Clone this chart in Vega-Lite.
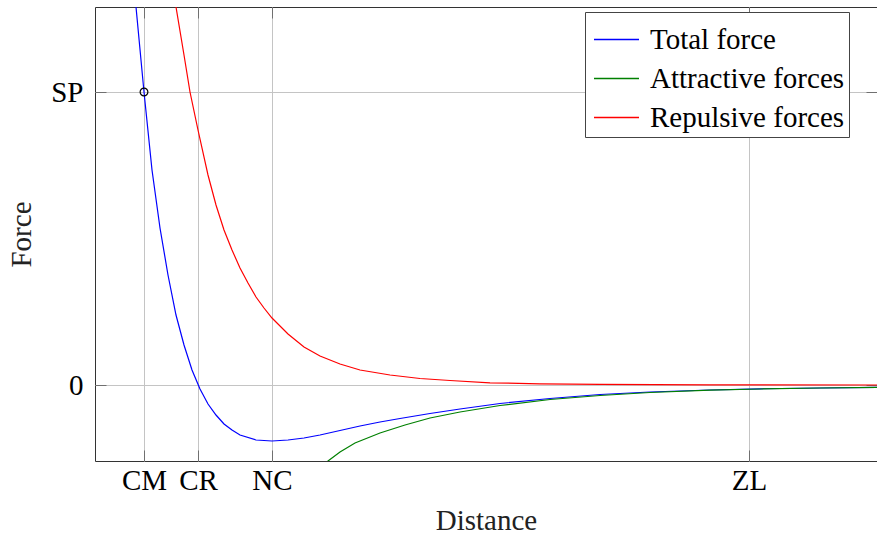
{
  "$schema": "https://vega.github.io/schema/vega-lite/v6.json",
  "width": 782,
  "height": 454,
  "autosize": {"type": "none"},
  "padding": {"left": 95, "top": 7, "right": 0, "bottom": 77},
  "config": {
    "view": {"stroke": "#333333", "strokeWidth": 1},
    "font": "Liberation Serif",
    "axis": {
      "grid": true,
      "gridColor": "#c4c4c4",
      "gridWidth": 1,
      "domain": false,
      "tickSize": -11,
      "tickColor": "#707070",
      "tickWidth": 1,
      "labelFont": "Liberation Serif",
      "labelFontSize": 29,
      "labelColor": "#000000",
      "titleFont": "Liberation Serif",
      "titleFontSize": 29,
      "titleFontWeight": "normal",
      "titleColor": "#222222"
    },
    "legend": {
      "labelFont": "Liberation Serif",
      "labelFontSize": 29,
      "labelColor": "#000000"
    }
  },
  "datasets": {
    "curves": [
      {"d": 33, "f": 465, "s": "Total force"},
      {"d": 41, "f": 378, "s": "Total force"},
      {"d": 49, "f": 293, "s": "Total force"},
      {"d": 57, "f": 215, "s": "Total force"},
      {"d": 65, "f": 157, "s": "Total force"},
      {"d": 73, "f": 110, "s": "Total force"},
      {"d": 81, "f": 70, "s": "Total force"},
      {"d": 89, "f": 40, "s": "Total force"},
      {"d": 97, "f": 15, "s": "Total force"},
      {"d": 105, "f": -4, "s": "Total force"},
      {"d": 113, "f": -19, "s": "Total force"},
      {"d": 121, "f": -30, "s": "Total force"},
      {"d": 129, "f": -39, "s": "Total force"},
      {"d": 137, "f": -45, "s": "Total force"},
      {"d": 145, "f": -50, "s": "Total force"},
      {"d": 161, "f": -55, "s": "Total force"},
      {"d": 177, "f": -56, "s": "Total force"},
      {"d": 193, "f": -55, "s": "Total force"},
      {"d": 209, "f": -53, "s": "Total force"},
      {"d": 225, "f": -50, "s": "Total force"},
      {"d": 245, "f": -45.5, "s": "Total force"},
      {"d": 265, "f": -41, "s": "Total force"},
      {"d": 285, "f": -37, "s": "Total force"},
      {"d": 305, "f": -33.5, "s": "Total force"},
      {"d": 335, "f": -28.5, "s": "Total force"},
      {"d": 365, "f": -24, "s": "Total force"},
      {"d": 405, "f": -18.5, "s": "Total force"},
      {"d": 455, "f": -13.5, "s": "Total force"},
      {"d": 505, "f": -9.5, "s": "Total force"},
      {"d": 555, "f": -7, "s": "Total force"},
      {"d": 615, "f": -5, "s": "Total force"},
      {"d": 665, "f": -3.8, "s": "Total force"},
      {"d": 725, "f": -3, "s": "Total force"},
      {"d": 782, "f": -2.3, "s": "Total force"},
      {"d": 225, "f": -84, "s": "Attractive forces"},
      {"d": 233, "f": -76, "s": "Attractive forces"},
      {"d": 245, "f": -67, "s": "Attractive forces"},
      {"d": 260, "f": -58, "s": "Attractive forces"},
      {"d": 285, "f": -48, "s": "Attractive forces"},
      {"d": 310, "f": -40, "s": "Attractive forces"},
      {"d": 335, "f": -33, "s": "Attractive forces"},
      {"d": 365, "f": -27, "s": "Attractive forces"},
      {"d": 405, "f": -20.5, "s": "Attractive forces"},
      {"d": 455, "f": -14.5, "s": "Attractive forces"},
      {"d": 505, "f": -10.5, "s": "Attractive forces"},
      {"d": 555, "f": -7.5, "s": "Attractive forces"},
      {"d": 615, "f": -5.2, "s": "Attractive forces"},
      {"d": 665, "f": -4, "s": "Attractive forces"},
      {"d": 725, "f": -3, "s": "Attractive forces"},
      {"d": 782, "f": -2.3, "s": "Attractive forces"},
      {"d": 75, "f": 445, "s": "Repulsive forces"},
      {"d": 81, "f": 378, "s": "Repulsive forces"},
      {"d": 89, "f": 330, "s": "Repulsive forces"},
      {"d": 95, "f": 293, "s": "Repulsive forces"},
      {"d": 103, "f": 255, "s": "Repulsive forces"},
      {"d": 113, "f": 210, "s": "Repulsive forces"},
      {"d": 121, "f": 180, "s": "Repulsive forces"},
      {"d": 129, "f": 155, "s": "Repulsive forces"},
      {"d": 137, "f": 135, "s": "Repulsive forces"},
      {"d": 145, "f": 117, "s": "Repulsive forces"},
      {"d": 153, "f": 102, "s": "Repulsive forces"},
      {"d": 161, "f": 88, "s": "Repulsive forces"},
      {"d": 169, "f": 77, "s": "Repulsive forces"},
      {"d": 177, "f": 67, "s": "Repulsive forces"},
      {"d": 193, "f": 51, "s": "Repulsive forces"},
      {"d": 209, "f": 38, "s": "Repulsive forces"},
      {"d": 225, "f": 29, "s": "Repulsive forces"},
      {"d": 245, "f": 21, "s": "Repulsive forces"},
      {"d": 265, "f": 15, "s": "Repulsive forces"},
      {"d": 295, "f": 10, "s": "Repulsive forces"},
      {"d": 325, "f": 6.5, "s": "Repulsive forces"},
      {"d": 355, "f": 4.5, "s": "Repulsive forces"},
      {"d": 395, "f": 2.2, "s": "Repulsive forces"},
      {"d": 445, "f": 1.2, "s": "Repulsive forces"},
      {"d": 505, "f": 0.7, "s": "Repulsive forces"},
      {"d": 615, "f": 0.2, "s": "Repulsive forces"},
      {"d": 782, "f": 0, "s": "Repulsive forces"}
    ],
    "sp": [
      {"d": 49, "f": 293}
    ]
  },
  "resolve": {"axis": {"x": "independent", "y": "independent"}},
  "layer": [
    {
      "data": {"name": "curves"},
      "mark": {"type": "line", "clip": true, "strokeWidth": 1.2},
      "encoding": {
        "x": {
          "field": "d",
          "type": "quantitative",
          "scale": {"domain": [0, 782], "nice": false, "zero": false},
          "axis": {
            "title": "Distance",
            "orient": "bottom",
            "values": [49, 103, 177, 654],
            "labelExpr": "datum.value == 49 ? 'CM' : datum.value == 103 ? 'CR' : datum.value == 177 ? 'NC' : 'ZL'",
            "labelPadding": 16,
            "titlePadding": 11
          }
        },
        "y": {
          "field": "f",
          "type": "quantitative",
          "scale": {"domain": [-76, 378], "nice": false, "zero": false},
          "axis": {
            "title": "Force",
            "orient": "left",
            "values": [0, 293],
            "labelExpr": "datum.value == 0 ? '0' : 'SP'",
            "labelPadding": 23,
            "titlePadding": 14
          }
        },
        "color": {
          "field": "s",
          "type": "nominal",
          "scale": {
            "domain": ["Total force", "Attractive forces", "Repulsive forces"],
            "range": ["#0000ff", "#008000", "#ff0000"]
          },
          "legend": {
            "title": null,
            "orient": "none",
            "legendX": 490,
            "legendY": 5,
            "symbolType": "stroke",
            "symbolSize": 2025,
            "symbolStrokeWidth": 1.3,
            "symbolOffset": 4,
            "strokeColor": "#444444",
            "fillColor": "#ffffff",
            "padding": 4,
            "rowPadding": 0,
            "labelOffset": 10,
            "labelLimit": 400,
            "encode": {
              "symbols": {
                "update": {
                  "stroke": {"scale": "color", "field": "value"},
                  "strokeWidth": {"value": 1.3},
                  "opacity": {"value": 1}
                }
              }
            }
          }
        }
      }
    },
    {
      "data": {"name": "sp"},
      "mark": {"type": "point", "shape": "circle", "filled": false, "color": "#000000", "size": 60, "strokeWidth": 1.2, "opacity": 1},
      "encoding": {
        "x": {
          "field": "d",
          "type": "quantitative",
          "axis": {"orient": "top", "values": [49, 103, 177, 654], "labels": false, "grid": false, "title": null}
        },
        "y": {
          "field": "f",
          "type": "quantitative",
          "axis": {"orient": "right", "values": [0, 293], "labels": false, "grid": false, "title": null}
        }
      }
    }
  ]
}
